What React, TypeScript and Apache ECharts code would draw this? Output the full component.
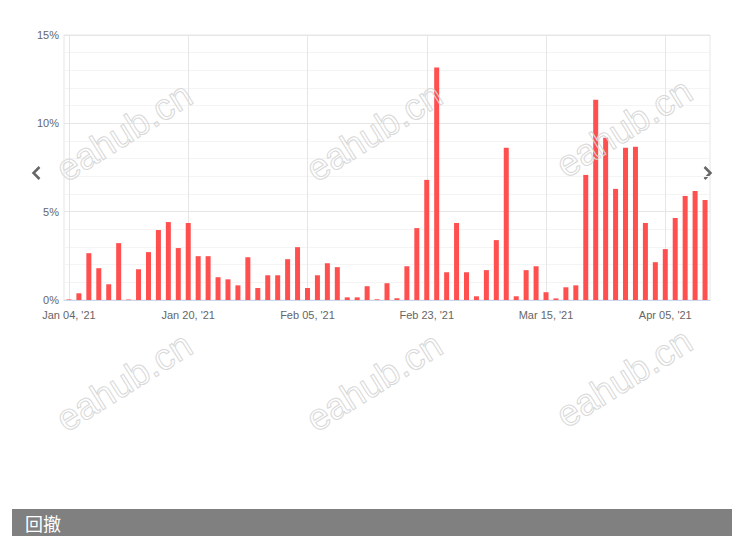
import React, { useEffect, useRef } from "react";
import * as echarts from "echarts";

const dates: string[] = [
  "2021-01-04", "2021-01-05", "2021-01-06", "2021-01-07", "2021-01-08", "2021-01-11", "2021-01-12",
  "2021-01-13", "2021-01-14", "2021-01-15", "2021-01-18", "2021-01-19", "2021-01-20",
  "2021-01-21", "2021-01-22", "2021-01-25", "2021-01-26", "2021-01-27", "2021-01-28", "2021-01-29",
  "2021-02-01", "2021-02-02", "2021-02-03", "2021-02-04", "2021-02-05",
  "2021-02-08", "2021-02-09", "2021-02-10", "2021-02-11", "2021-02-12", "2021-02-15", "2021-02-16",
  "2021-02-17", "2021-02-18", "2021-02-19", "2021-02-22", "2021-02-23",
  "2021-02-24", "2021-02-25", "2021-02-26", "2021-03-01", "2021-03-02", "2021-03-03", "2021-03-04",
  "2021-03-05", "2021-03-08", "2021-03-09", "2021-03-10", "2021-03-15",
  "2021-03-16", "2021-03-17", "2021-03-18", "2021-03-19", "2021-03-22", "2021-03-23", "2021-03-24",
  "2021-03-25", "2021-03-29", "2021-03-30", "2021-03-31", "2021-04-05",
  "2021-04-06", "2021-04-07", "2021-04-08", "2021-04-09",
];

const drawdown: number[] = [
  0.03, 0.38, 2.65, 1.8, 0.89, 3.22, 0.03, 1.74, 2.71, 3.96, 4.41, 2.94, 4.36,
  2.48, 2.48, 1.29, 1.17, 0.83, 2.42, 0.68, 1.4, 1.4, 2.31, 2.99, 0.68,
  1.4, 2.08, 1.86, 0.15, 0.15, 0.78, 0.04, 0.95, 0.1, 1.91, 4.07, 6.8,
  13.16, 1.57, 4.36, 1.57, 0.21, 1.69, 3.39, 8.62, 0.21, 1.69, 1.91, 0.44,
  0.09, 0.72, 0.83, 7.08, 11.34, 9.19, 6.29, 8.62, 8.67, 4.36, 2.14, 2.88,
  4.64, 5.89, 6.17, 5.66,
];

const yTicks: number[] = [0, 5, 10, 15];
const titleText = "回撤";
const watermarkText = "eahub.cn";
const watermarkCenters: number[][] = [
  [124, 132], [374, 132], [624, 128],
  [124, 382], [374, 382], [624, 378],
];

const MONTHS = ["Jan", "Feb", "Mar", "Apr", "May", "Jun", "Jul", "Aug", "Sep", "Oct", "Nov", "Dec"];
function fmtDate(s: string): string {
  const [y, m, d] = s.split("-");
  return `${MONTHS[parseInt(m, 10) - 1]} ${d}, '${y.slice(2)}`;
}

const FONT = "'Liberation Sans', Arial, sans-serif";

export default function App() {
  const ref = useRef<HTMLDivElement>(null);

  useEffect(() => {
    if (!ref.current) return;
    const chart = echarts.init(ref.current, null, { renderer: "svg" });

    const watermarks = watermarkCenters.map(([cx, cy]) => ({
      type: "text",
      x: cx,
      y: cy,
      rotation: 0.56,
      z: 100,
      silent: true,
      style: {
        text: watermarkText,
        font: `37px ${FONT}`,
        fill: "rgba(255,255,255,0)",
        stroke: "#d8d8d8",
        lineWidth: 1,
        align: "center",
        verticalAlign: "middle",
      },
    }));

    chart.setOption({
      animation: false,
      backgroundColor: "#ffffff",
      grid: {
        left: 64,
        right: 30,
        top: 35,
        bottom: 241,
        show: true,
        borderColor: "#e6e6e6",
        borderWidth: 1,
        containLabel: false,
      },
      xAxis: {
        type: "category",
        data: dates,
        boundaryGap: true,
        axisLine: { show: true, lineStyle: { color: "#ccd6eb", width: 1 } },
        axisTick: { show: false },
        axisLabel: {
          interval: 11,
          formatter: (v: string) => fmtDate(v),
          color: "#666666",
          fontSize: 11,
          fontFamily: FONT,
          margin: 9,
        },
        splitLine: {
          show: true,
          interval: 11,
          alignWithLabel: true,
          lineStyle: { color: "#e6e6e6", width: 1 },
        },
      },
      yAxis: {
        type: "value",
        min: yTicks[0],
        max: yTicks[yTicks.length - 1],
        interval: 5,
        axisLine: { show: false },
        axisTick: { show: false },
        axisLabel: {
          formatter: "{value}%",
          color: "#666666",
          fontSize: 11,
          fontFamily: FONT,
          margin: 5,
        },
        splitLine: { show: true, lineStyle: { color: "#e6e6e6", width: 1 } },
        minorTick: { show: false, splitNumber: 5 },
        minorSplitLine: { show: true, lineStyle: { color: "#f4f4f4", width: 1 } },
      },
      series: [
        {
          type: "bar",
          data: drawdown,
          barWidth: 5,
          itemStyle: { color: "#ff4f4f" },
        },
      ],
      graphic: [
        ...watermarks,
        {
          type: "polyline",
          silent: true,
          shape: { points: [[39.5, 167], [33.5, 173], [39.5, 179]] },
          style: { stroke: "#666666", lineWidth: 2.5, fill: "none" },
        },
        {
          type: "polyline",
          silent: true,
          shape: { points: [[704.5, 167], [710.5, 173], [704.5, 179]] },
          style: { stroke: "#666666", lineWidth: 2.5, fill: "none" },
        },
        {
          type: "rect",
          silent: true,
          shape: { x: 12, y: 509, width: 720, height: 27 },
          style: { fill: "#808080" },
        },
        {
          type: "text",
          silent: true,
          x: 25,
          y: 523,
          style: {
            text: titleText,
            font: "18px 'Noto Sans CJK SC', sans-serif",
            fill: "#ffffff",
            verticalAlign: "middle",
            align: "left",
          },
        },
      ],
    });

    return () => {
      chart.dispose();
    };
  }, []);

  return (
    <div
      ref={ref}
      style={{ position: "absolute", left: 0, top: 0, width: 740, height: 541 }}
    />
  );
}
